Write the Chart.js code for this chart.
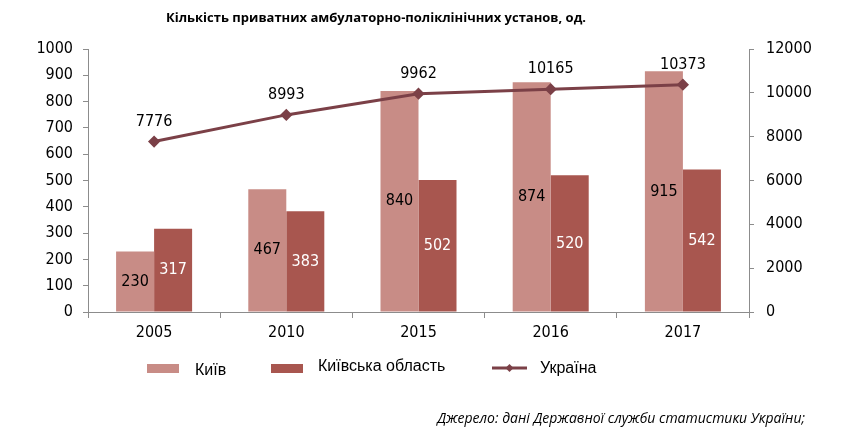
<!DOCTYPE html>
<html>
<head>
<meta charset="utf-8">
<script src="https://cdn.jsdelivr.net/npm/chart.js@4/dist/chart.umd.min.js"></script>
<style>
    body { margin: 0; background: #fff; }
    #wrap { position: relative; width: 853px; height: 436px; }
    #titulo { position: absolute; left: 0; width: 752px; top: 8px; text-align: center;
        font: bold 13px "Open Sans", sans-serif; color: #000; }
    .leg { position: absolute; top: 359px; font: 16px "Liberation Sans", Arial, sans-serif; color: #000; }
    .caixa { position: absolute; width: 32px; height: 9px; }
    #fonte { position: absolute; right: 48px; top: 408px; font: italic 14px "Open Sans", sans-serif; color: #000; }
</style>
</head>
<body>
<div id="wrap">
    <canvas id="grafico" width="853" height="436"></canvas>
    <div id="titulo">Кількість приватних амбулаторно-поліклінічних установ, од.</div>
    <div class="caixa" style="left:147px; top:364px; background:#C88C86"></div>
    <div class="leg" style="left:195px; top:361px">Київ</div>
    <div class="caixa" style="left:271px; top:364px; background:#A8564F"></div>
    <div class="leg" style="left:318px; top:357px">Київська область</div>
    <svg style="position:absolute; left:490px; top:362px" width="40" height="12">
        <line x1="2" y1="6" x2="37" y2="6" stroke="#7B4047" stroke-width="3"/>
        <polygon points="19.5,2 23.5,6 19.5,10 15.5,6" fill="#7B4047"/>
    </svg>
    <div class="leg" style="left:540px; top:359px">Україна</div>
    <div id="fonte">Джерело: дані Державної служби статистики України;</div>
</div>
<script>
// Dados do gráfico
const anos = ['2005', '2010', '2015', '2016', '2017'];
const kyiv = [230, 467, 840, 874, 915];
const oblast = [317, 383, 502, 520, 542];
const ukraina = [7776, 8993, 9962, 10165, 10373];

const corKyiv = '#C88C86';
const corOblast = '#A8564F';
const corLinha = '#7B4047';
const corEixo = '#8C8C8C';
const fonteNum = { family: '"DejaVu Sans Condensed", "DejaVu Sans", Verdana, sans-serif', size: 16 };

// Números sem separador de milhares
const semSeparador = (v) => String(v);

// Plugin para rótulos de dados
const rotulos = {
    id: 'rotulos',
    afterDatasetsDraw(chart) {
        const ctx = chart.ctx;
        ctx.save();
        ctx.font = `${fonteNum.size}px ${fonteNum.family}`;
        ctx.textAlign = 'center';
        ctx.textBaseline = 'middle';
        chart.data.datasets.forEach((ds, i) => {
            const meta = chart.getDatasetMeta(i);
            meta.data.forEach((el, j) => {
                const valor = ds.data[j];
                if (ds.type === 'line') {
                    ctx.fillStyle = '#000';
                    ctx.fillText(valor, el.x, el.y - 20);
                } else {
                    ctx.fillStyle = i === 0 ? '#000' : '#fff';
                    ctx.fillText(valor, el.x, (el.y + el.base) / 2);
                }
            });
        });
        ctx.restore();
    }
};

new Chart(document.getElementById('grafico'), {
    data: {
        labels: anos,
        datasets: [
            {
                type: 'bar',
                label: 'Київ',
                data: kyiv,
                backgroundColor: corKyiv,
                yAxisID: 'y',
                order: 1,
                categoryPercentage: 0.575,
                barPercentage: 1
            },
            {
                type: 'bar',
                label: 'Київська область',
                data: oblast,
                backgroundColor: corOblast,
                yAxisID: 'y',
                order: 1,
                categoryPercentage: 0.575,
                barPercentage: 1
            },
            {
                type: 'line',
                label: 'Україна',
                data: ukraina,
                borderColor: corLinha,
                backgroundColor: corLinha,
                borderWidth: 3,
                pointStyle: 'rectRot',
                pointRadius: 4,
                yAxisID: 'y2',
                order: 0
            }
        ]
    },
    options: {
        responsive: false,
        animation: false,
        layout: { padding: { top: 49, left: 0, right: 0, bottom: 0 } },
        plugins: {
            legend: { display: false },
            tooltip: { enabled: false }
        },
        scales: {
            x: {
                grid: { display: true, drawOnChartArea: false, offset: true, tickLength: 6, color: corEixo },
                border: { color: corEixo },
                ticks: { font: fonteNum, color: '#000', padding: 5 },
                afterFit: (s) => { s.height = 124; }
            },
            y: {
                position: 'left',
                min: 0,
                max: 1000,
                ticks: { stepSize: 100, font: fonteNum, color: '#000', padding: 10, callback: semSeparador },
                grid: { drawOnChartArea: false, tickLength: 5, color: corEixo },
                border: { color: corEixo },
                afterFit: (s) => { s.width = 88; }
            },
            y2: {
                position: 'right',
                min: 0,
                max: 12000,
                ticks: { stepSize: 2000, font: fonteNum, color: '#000', padding: 12, callback: semSeparador },
                grid: { drawOnChartArea: false, tickLength: 5, color: corEixo },
                border: { color: corEixo },
                afterFit: (s) => { s.width = 104; }
            }
        }
    },
    plugins: [rotulos]
});
</script>
</body>
</html>
